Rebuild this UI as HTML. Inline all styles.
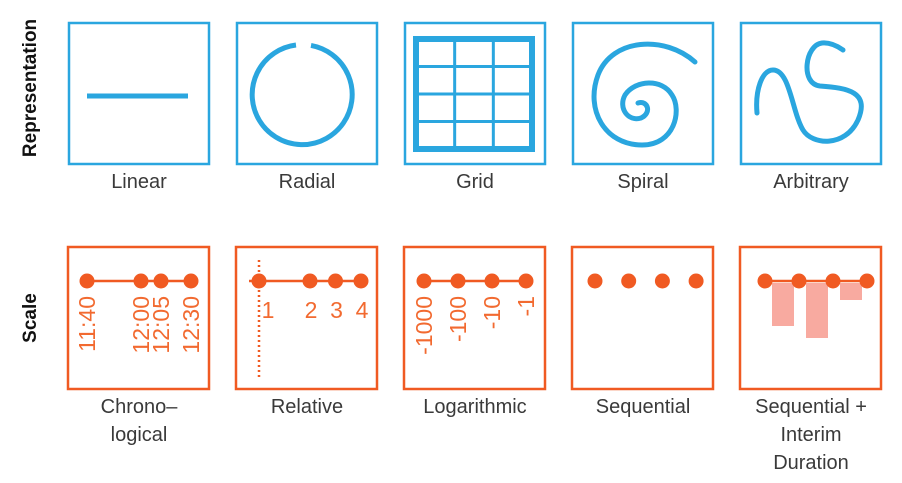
<!DOCTYPE html>
<html><head><meta charset="utf-8"><style>
html,body{margin:0;padding:0;background:#fff;}
svg{display:block;font-family:"Liberation Sans",sans-serif;}
.lbl{font-size:20px;fill:#3a3a3a;text-anchor:middle;}
.ol{font-size:23px;fill:#f26a30;}
</style></head><body>
<svg id="chart" width="902" height="483" viewBox="0 0 902 483">
<text transform="translate(36,88) rotate(-90)" text-anchor="middle" font-weight="bold" font-size="19" fill="#111">Representation</text>
<text transform="translate(36,318) rotate(-90)" text-anchor="middle" font-weight="bold" font-size="19" fill="#111">Scale</text>
</svg>
<script>
const repNames=["Linear","Radial","Grid","Spiral","Arbitrary"];
const scaleNames=[["Chrono–","logical"],["Relative"],["Logarithmic"],["Sequential"],["Sequential +","Interim","Duration"]];
const chronoLabels=["11:40","12:00","12:05","12:30"];
const chronoOffsets=[0,27,37,52];
const relLabels=["1","2","3","4"];
const relValues=[0,2,3,4];
const logLabels=["-1000","-100","-10","-1"];
const seqIdx=[0,1,2,3];
const interimDur=[43,55,17];
const NS="http://www.w3.org/2000/svg";
const svg=document.getElementById('chart');
function mk(t,a,p){const e=document.createElementNS(NS,t);for(const k in a)e.setAttribute(k,a[k]);(p||svg).appendChild(e);return e;}
const boxX=i=>69+i*168;
const BW=140, TY=23, BY=247;
const blue="#2aa6df", org="#f05a22";
repNames.forEach((n,i)=>{
  const b=mk('rect',{x:boxX(i),y:TY,width:BW,height:141,fill:'none',stroke:blue,'stroke-width':2.5});
  
  
  const t=mk('text',{x:boxX(i)+70,y:188,class:'lbl'});t.textContent=n;
  
  
});
const ic=[];
ic.push(mk('line',{x1:87,y1:96,x2:188,y2:96,stroke:blue,'stroke-width':5}));
ic.push(mk('path',{d:'M 296 45 A 50 50 0 1 0 311 45.4',fill:'none',stroke:blue,'stroke-width':5}));
ic.push(mk('rect',{x:416,y:39,width:116,height:110,fill:'none',stroke:blue,'stroke-width':6}));
for(let c=1;c<3;c++){ic.push(mk('line',{x1:416+c*116/3,y1:39,x2:416+c*116/3,y2:149,stroke:blue,'stroke-width':3}));}
for(let r=1;r<4;r++){ic.push(mk('line',{x1:416,y1:39+r*110/4,x2:532,y2:39+r*110/4,stroke:blue,'stroke-width':3}));}
ic.push(mk('path',{d:'M 695 62 C 665 35 612 38 598 75 C 585 110 605 145 642 145 C 675 145 682 110 672 95 C 662 78 635 80 625 95 C 618 108 628 122 641 118 C 652 113 648 100 638 103',fill:'none',stroke:blue,'stroke-width':5,'stroke-linecap':'round'}));
ic.push(mk('path',{d:'M 757 113 C 755 90 762 70 773 70 C 790 70 792 112 803 130 C 812 145 845 148 858 120 C 870 92 848 88 820 86 C 800 84 805 45 822 43 C 832 42 840 48 843 50',fill:'none',stroke:blue,'stroke-width':5,'stroke-linecap':'round'}));
ic.forEach((e,k)=>{});
scaleNames.forEach((n,i)=>{
  const b=mk('rect',{x:boxX(i)-1,y:BY,width:BW+1,height:142,fill:'none',stroke:org,'stroke-width':2.5});
  
  
  n.forEach((s,j)=>{const t=mk('text',{x:boxX(i)+70,y:413+j*28,class:'lbl'});t.textContent=s;
    
    });
});
const DY=281;
function dot(x,name){const c=mk('circle',{cx:x,cy:DY,r:7.5,fill:org});return c;}
function axisLine(x1,x2){const l=mk('line',{x1:x1,y1:DY,x2:x2,y2:DY,stroke:org,'stroke-width':2.5});}
function vlabel(x,s,name){const t=mk('text',{transform:`translate(${x+8},296) rotate(-90)`,'text-anchor':'end',class:'ol'});t.textContent=s;}
const cx=m=>87+m*2;
axisLine(cx(chronoOffsets[0]),cx(chronoOffsets[chronoOffsets.length-1]));
chronoOffsets.forEach((m,k)=>{dot(cx(m),'chrono-point-'+k);vlabel(cx(m),chronoLabels[k],'chrono-label-'+k);});
const rx=v=>259+v*25.5;
axisLine(rx(0)-10,rx(4));
const dl=mk('line',{x1:259,y1:260,x2:259,y2:379,stroke:org,'stroke-width':2.5,'stroke-dasharray':'2 3'});

relValues.forEach((v,k)=>{dot(rx(v),'relative-point-'+k);const t=mk('text',{x:rx(v)+(k==0?9:1),y:318,'text-anchor':'middle',class:'ol'});t.textContent=relLabels[k];
  });
const lx=k=>424+k*34;
axisLine(lx(0),lx(3));
logLabels.forEach((s,k)=>{dot(lx(k),'log-point-'+k);vlabel(lx(k),s,'log-label-'+k);});
const sx=k=>595+k*33.7;
seqIdx.forEach(k=>dot(sx(k),'sequential-point-'+k));
const ix=k=>765+k*34;
axisLine(ix(0),ix(3));
interimDur.forEach((d,k)=>{const r=mk('rect',{x:ix(k)+7,y:DY+2,width:22,height:d,fill:'#f8aaa0'});
  });
seqIdx.forEach(k=>dot(ix(k),'interim-point-'+k));
</script>
</body></html>
